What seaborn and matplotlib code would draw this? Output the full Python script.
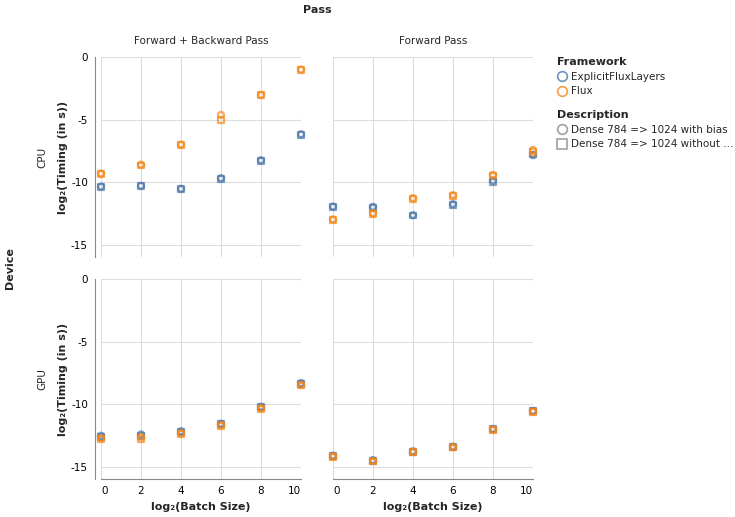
import numpy as np
import pandas as pd
import matplotlib
matplotlib.use("Agg")
import matplotlib.pyplot as plt
import seaborn as sns
from matplotlib.lines import Line2D

# x values: log2 of batch size
batch_exp = [0, 2, 4, 6, 8, 10]

frameworks = ["ExplicitFluxLayers", "Flux"]
descriptions = ["Dense 784 => 1024 with bias", "Dense 784 => 1024 without bias"]
devices = ["CPU", "GPU"]
passes = ["Forward + Backward Pass", "Forward Pass"]

# log2(timing in s)
cpu_fb_efl_bias = [-10.33, -10.28, -10.52, -9.67, -8.24, -6.16]
cpu_fb_efl_nobias = [-10.40, -10.32, -10.56, -9.70, -8.27, -6.20]
cpu_fb_flux_bias = [-9.30, -8.58, -6.98, -4.62, -3.03, -1.00]
cpu_fb_flux_nobias = [-9.36, -8.66, -7.01, -5.05, -3.06, -1.04]

cpu_f_efl_bias = [-11.93, -11.95, -12.62, -11.74, -9.86, -7.84]
cpu_f_efl_nobias = [-12.00, -12.02, -12.65, -11.78, -9.95, -7.78]
cpu_f_flux_bias = [-12.96, -12.46, -11.26, -11.02, -9.40, -7.41]
cpu_f_flux_nobias = [-13.00, -12.50, -11.30, -11.06, -9.46, -7.55]

gpu_fb_efl_bias = [-12.50, -12.40, -12.15, -11.55, -10.20, -8.30]
gpu_fb_efl_nobias = [-12.60, -12.50, -12.20, -11.60, -10.25, -8.40]
gpu_fb_flux_bias = [-12.70, -12.60, -12.30, -11.65, -10.30, -8.45]
gpu_fb_flux_nobias = [-12.80, -12.75, -12.40, -11.70, -10.35, -8.50]

gpu_f_efl_bias = [-14.10, -14.45, -13.75, -13.38, -11.97, -10.52]
gpu_f_efl_nobias = [-14.13, -14.50, -13.78, -13.40, -12.00, -10.56]
gpu_f_flux_bias = [-14.15, -14.52, -13.80, -13.42, -12.02, -10.58]
gpu_f_flux_nobias = [-14.18, -14.56, -13.83, -13.45, -12.05, -10.62]

series = [
    ("CPU", passes[0], frameworks[0], descriptions[0], cpu_fb_efl_bias),
    ("CPU", passes[0], frameworks[0], descriptions[1], cpu_fb_efl_nobias),
    ("CPU", passes[0], frameworks[1], descriptions[0], cpu_fb_flux_bias),
    ("CPU", passes[0], frameworks[1], descriptions[1], cpu_fb_flux_nobias),
    ("CPU", passes[1], frameworks[0], descriptions[0], cpu_f_efl_bias),
    ("CPU", passes[1], frameworks[0], descriptions[1], cpu_f_efl_nobias),
    ("CPU", passes[1], frameworks[1], descriptions[0], cpu_f_flux_bias),
    ("CPU", passes[1], frameworks[1], descriptions[1], cpu_f_flux_nobias),
    ("GPU", passes[0], frameworks[0], descriptions[0], gpu_fb_efl_bias),
    ("GPU", passes[0], frameworks[0], descriptions[1], gpu_fb_efl_nobias),
    ("GPU", passes[0], frameworks[1], descriptions[0], gpu_fb_flux_bias),
    ("GPU", passes[0], frameworks[1], descriptions[1], gpu_fb_flux_nobias),
    ("GPU", passes[1], frameworks[0], descriptions[0], gpu_f_efl_bias),
    ("GPU", passes[1], frameworks[0], descriptions[1], gpu_f_efl_nobias),
    ("GPU", passes[1], frameworks[1], descriptions[0], gpu_f_flux_bias),
    ("GPU", passes[1], frameworks[1], descriptions[1], gpu_f_flux_nobias),
]

df = pd.concat([
    pd.DataFrame({"Device": dev, "Pass": ps, "Framework": fw,
                  "Description": desc, "log2_batch": batch_exp, "log2_time": vals})
    for dev, ps, fw, desc, vals in series
], ignore_index=True)

palette = {"ExplicitFluxLayers": "#4c78a8", "Flux": "#f58518"}
markers = {descriptions[0]: "o", descriptions[1]: "s"}
grid_c = "#dddddd"
axis_c = "#888888"

sns.set_style("white")
plt.rcParams["font.family"] = ["DejaVu Sans"]

W, H = 735, 517
fig = plt.figure(figsize=(W / 100, H / 100), dpi=100)


def px_axes(x0, y0, w, h):
    return fig.add_axes([x0 / W, 1 - (y0 + h) / H, w / W, h / H])


panel_pos = {("CPU", 0): (101, 57), ("CPU", 1): (333, 57),
             ("GPU", 0): (101, 279), ("GPU", 1): (333, 279)}

for (dev, pi), (x0, y0) in panel_pos.items():
    ax = px_axes(x0, y0, 200, 200)
    sub = df[(df.Device == dev) & (df.Pass == passes[pi])]
    sns.scatterplot(data=sub, x="log2_batch", y="log2_time", hue="Framework",
                    style="Description", palette=palette, markers=markers,
                    hue_order=frameworks, style_order=descriptions,
                    s=18, legend=False, ax=ax, zorder=3, clip_on=False)
    # open markers like the original
    for coll in ax.collections:
        fc = coll.get_facecolors()
        fc[:, 3] = 0.7
        coll.set_edgecolors(fc)
        coll.set_facecolors("none")
        coll.set_linewidths(1.6)

    ax.set_xlim(0, 10)
    ax.set_ylim(-15.96, 0)
    ax.set_xticks(batch_exp)
    ax.set_yticks([0, -5, -10, -15])
    ax.grid(True, color=grid_c, linewidth=0.8)
    ax.set_axisbelow(True)
    for s in ["top", "right", "left", "bottom"]:
        ax.spines[s].set_visible(False)
    ax.set_xlabel("")
    ax.set_ylabel("")
    ax.tick_params(colors=axis_c, labelcolor="black", labelsize=7.5,
                   length=3.6, width=0.8, pad=1.5)

    if pi == 0:
        ax.spines["left"].set_visible(True)
        ax.spines["left"].set_color(axis_c)
        ax.spines["left"].set_linewidth(0.8)
        ax.spines["left"].set_position(("outward", 4.3))
        ax.set_yticklabels(["0", "-5", "-10", "-15"])
        ax.set_ylabel("log₂(Timing (in s))", fontsize=8, fontweight="bold",
                      labelpad=2)
    else:
        ax.tick_params(axis="y", left=False, labelleft=False)

    if dev == "GPU":
        ax.spines["bottom"].set_visible(True)
        ax.spines["bottom"].set_color(axis_c)
        ax.spines["bottom"].set_linewidth(0.8)
        ax.set_xticklabels([str(b) for b in batch_exp])
        xl = ax.get_xticklabels()
        xl[0].set_horizontalalignment("left")
        xl[-1].set_horizontalalignment("right")
        ax.set_xlabel("log₂(Batch Size)", fontsize=8, fontweight="bold",
                      labelpad=4)
    else:
        ax.tick_params(axis="x", bottom=False, labelbottom=False)
        ax.set_title(passes[pi], fontsize=7.5, pad=9)

    if pi == 0:
        fig.text(42 / W, 1 - (y0 + 100) / H, dev, rotation=90, fontsize=7.5,
                 ha="center", va="center")

fig.text(317 / W, 1 - 10 / H, "Pass", fontsize=8, fontweight="bold",
         ha="center", va="center")
fig.text(10 / W, 1 - 268 / H, "Device", fontsize=8, fontweight="bold",
         rotation=90, ha="center", va="center")

# legends
fw_handles = [Line2D([], [], marker="o", linestyle="", markersize=7,
                     markerfacecolor="none", markeredgecolor=palette[f],
                     markeredgewidth=1.2, alpha=0.8) for f in frameworks]
fig.legend(fw_handles, frameworks, loc="upper left",
           bbox_to_anchor=(557 / W, 1 - 57 / H), frameon=False,
           title="Framework", fontsize=7.5, alignment="left",
           title_fontproperties={"weight": "bold", "size": 8},
           handlelength=0.9, handletextpad=0.45, labelspacing=0.45,
           borderaxespad=0, borderpad=0)
desc_labels = ["Dense 784 => 1024 with bias", "Dense 784 => 1024 without ..."]
desc_handles = [Line2D([], [], marker=markers[d], linestyle="", markersize=7,
                       markerfacecolor="none", markeredgecolor="#a0a0a0",
                       markeredgewidth=1.2) for d in descriptions]
fig.legend(desc_handles, desc_labels, loc="upper left",
           bbox_to_anchor=(557 / W, 1 - 110 / H), frameon=False,
           title="Description", fontsize=7.5, alignment="left",
           title_fontproperties={"weight": "bold", "size": 8},
           handlelength=0.9, handletextpad=0.45, labelspacing=0.45,
           borderaxespad=0, borderpad=0)

fig.savefig("out.png", dpi=100)
